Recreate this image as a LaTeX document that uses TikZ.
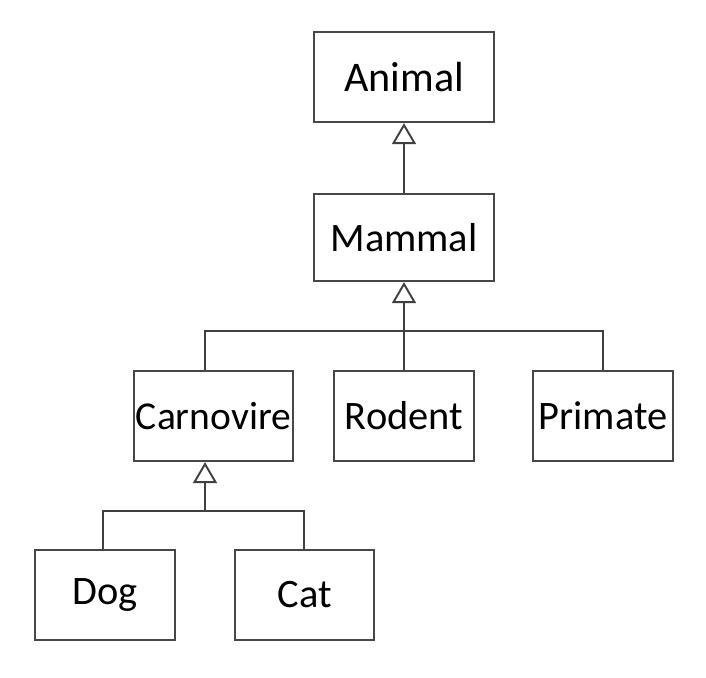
\documentclass[tikz,border=0pt]{standalone}
\usepackage{fontspec}
\setmainfont{Carlito}
\usetikzlibrary{arrows.meta,positioning,calc}

\begin{document}
\begin{tikzpicture}[
    x=0.02cm, y=-0.02cm,
    cls/.style={draw=black!72, fill=white, line width=1.3pt, inner sep=0pt, minimum height=1.8cm, font=\fontsize{23}{27}\selectfont},
    link/.style={draw=black!75, line width=1.1pt},
    gen/.style={link, -{Triangle[open, length=0.42cm, width=0.48cm]}}
]
\useasboundingbox (0,0) rectangle (706,677);

\node[cls, minimum width=3.6cm, font=\fontsize{24}{28}\selectfont] (animal) at (404,77) {Animal};
\node[cls, minimum width=3.6cm, minimum height=1.74cm] (mammal) at (404,237.5) {Mammal};

\node[cls, minimum width=3.18cm, font=\fontsize{22.5}{27}\selectfont] (carn) at (213.5,416) {Carnovire};
\node[cls, minimum width=2.8cm] (rodent) at (404,416) {Rodent};
\node[cls, minimum width=2.8cm] (primate) at (603,416) {Primate};

\node[cls, minimum width=2.8cm] (dog) at (105,595) {Dog};
\node[cls, minimum width=2.78cm] (cat) at (304.5,595) {Cat};

\coordinate (mjoin) at (404,331);
\coordinate (cjoin) at (205,511);

\draw[gen] (mammal) -- (animal);
\draw[gen] (rodent) -- (mammal);
\draw[link] ([xshift=-0.17cm]carn.north) |- (mjoin) -| (primate.north);
\draw[gen] (cjoin) -- ([xshift=-0.17cm]carn.south);
\draw[link] ([xshift=-0.04cm]dog.north) |- (cjoin) -| ([xshift=-0.01cm]cat.north);
\end{tikzpicture}
\end{document}
